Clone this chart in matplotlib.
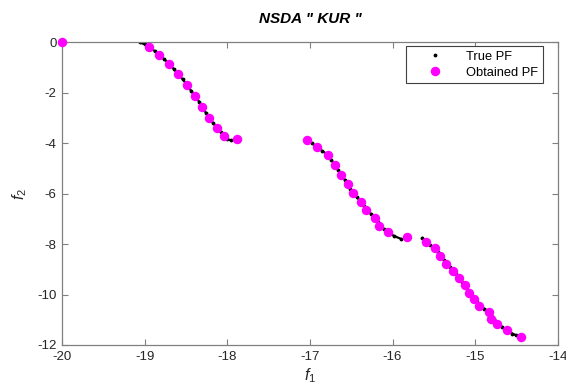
import numpy as np
import matplotlib.pyplot as plt

plt.rcParams['font.family'] = ['Liberation Sans', 'DejaVu Sans']
plt.rcParams['axes.unicode_minus'] = False
plt.rcParams['mathtext.fontset'] = 'custom'
plt.rcParams['mathtext.it'] = 'Liberation Sans:italic'
plt.rcParams['mathtext.rm'] = 'Liberation Sans'

# True Pareto front (three segments)
true_x1 = [-19.06, -19.00, -18.95, -18.88, -18.82, -18.76, -18.70, -18.65, -18.60, -18.54, -18.49, -18.44,
           -18.39, -18.34, -18.30, -18.26, -18.22, -18.17, -18.13, -18.08, -18.04, -18.00, -17.96]
true_y1 = [-0.00, -0.08, -0.18, -0.34, -0.51, -0.68, -0.86, -1.05, -1.25, -1.46, -1.68, -1.91,
           -2.14, -2.35, -2.56, -2.79, -3.01, -3.20, -3.38, -3.56, -3.72, -3.84, -3.88]
true_x2 = [-17.03, -16.97, -16.91, -16.85, -16.78, -16.74, -16.70, -16.66, -16.62, -16.58, -16.54, -16.51, -16.48,
           -16.43, -16.38, -16.35, -16.32, -16.26, -16.21, -16.18, -16.16, -16.10, -16.05, -15.98, -15.90]
true_y2 = [-3.86, -4.01, -4.16, -4.31, -4.46, -4.66, -4.86, -5.06, -5.26, -5.44, -5.62, -5.80, -5.97,
           -6.15, -6.32, -6.49, -6.65, -6.80, -6.95, -7.12, -7.29, -7.42, -7.54, -7.68, -7.79]
true_x3 = [-15.64, -15.60, -15.55, -15.49, -15.45, -15.42, -15.38, -15.35, -15.31, -15.27, -15.23, -15.20, -15.16,
           -15.12, -15.10, -15.08, -15.05, -15.02, -14.98, -14.95, -14.89, -14.83, -14.81, -14.77, -14.73,
           -14.67, -14.61, -14.55, -14.50]
true_y3 = [-7.76, -7.90, -8.03, -8.16, -8.33, -8.49, -8.63, -8.77, -8.91, -9.05, -9.20, -9.35, -9.50,
           -9.64, -9.78, -9.92, -10.05, -10.17, -10.31, -10.44, -10.56, -10.68, -10.82, -10.96, -11.16,
           -11.29, -11.41, -11.55, -11.62]

# Obtained Pareto front (NSDA)
obt_x = [-20.00,
         -18.95, -18.82, -18.70, -18.60, -18.49, -18.39, -18.30, -18.22, -18.13, -18.04, -17.88,
         -17.03, -16.91, -16.78, -16.70, -16.62, -16.54, -16.48, -16.38, -16.32, -16.21, -16.16, -16.05, -15.83,
         -15.60, -15.49, -15.42, -15.35, -15.27, -15.20, -15.12, -15.08, -15.02, -14.95, -14.83, -14.81,
         -14.73, -14.61, -14.45]
obt_y = [0.00,
         -0.18, -0.51, -0.86, -1.25, -1.68, -2.14, -2.56, -3.01, -3.38, -3.72, -3.82,
         -3.86, -4.16, -4.46, -4.86, -5.26, -5.62, -5.97, -6.32, -6.65, -6.95, -7.29, -7.54, -7.72,
         -7.90, -8.16, -8.49, -8.77, -9.05, -9.35, -9.64, -9.92, -10.17, -10.44, -10.68, -10.96,
         -11.16, -11.41, -11.67]

x_ticks = [-20, -19, -18, -17, -16, -15, -14]
y_ticks = [0, -2, -4, -6, -8, -10, -12]

fig = plt.figure(figsize=(5.66, 3.92), dpi=100)
ax = fig.add_axes([0.1095, 0.12, 0.876, 0.772])

segments = [(true_x1, true_y1), (true_x2, true_y2), (true_x3, true_y3)]
for i, (sx, sy) in enumerate(segments):
    ax.plot(sx, sy, '-', color='black', lw=1.6, zorder=2)
    ax.plot(sx, sy, '.', color='black', ms=3.5, zorder=2,
            label='True PF' if i == 0 else None)

ax.plot(obt_x, obt_y, 'o', color='#ff00ff', mec='#ff00ff', ms=5.8, zorder=3,
        clip_on=False, label='Obtained PF')

ax.set_xlim(-20, -14)
ax.set_ylim(-12, 0)
ax.set_xticks(x_ticks)
ax.set_yticks(y_ticks)

for s in ax.spines.values():
    s.set_color('#808080')
    s.set_linewidth(0.9)
ax.tick_params(direction='in', top=True, right=True, length=4, width=0.8,
               color='#808080', labelcolor='#262626', labelsize=9.5, pad=4)

ax.set_title('NSDA " KUR "', fontsize=11, fontweight='bold', fontstyle='italic', pad=14)
ax.set_xlabel('$f_1$', fontsize=11.5, color='#262626', labelpad=3)
ax.set_ylabel('$f_2$', fontsize=11.5, color='#262626', labelpad=6)

leg = ax.legend(loc='upper right', fontsize=9.3, fancybox=False, framealpha=1,
                edgecolor='#404040', borderpad=0.35, labelspacing=0.3,
                handlelength=3.7, handletextpad=0.6, borderaxespad=0,
                bbox_to_anchor=(0.970, 0.987))
leg.get_frame().set_linewidth(0.8)

plt.savefig('out.png', dpi=100)
